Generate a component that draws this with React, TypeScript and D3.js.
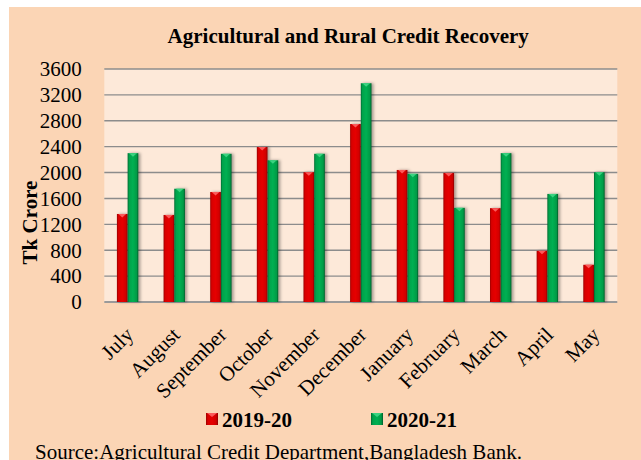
import React from "react";
import * as d3 from "d3";

const months = ["July","August","September","October","November","December","January","February","March","April","May"];
const seriesNames = ["2019-20","2020-21"];
const values2019 = [1360,1345,1700,2395,2005,2750,2040,1995,1450,790,575];
const values2020 = [2300,1750,2290,2190,2290,3380,1980,1455,2300,1670,2005];
const yTicks = [0,400,800,1200,1600,2000,2400,2800,3200,3600];
const title = "Agricultural and Rural Credit Recovery";
const yTitle = "Tk Crore";
const source = "Source:Agricultural Credit Department,Bangladesh Bank.";

const W = 641, H = 460;
const plot = { left: 104.3, right: 617.3, top: 69, bottom: 302 };
const FONT = "'Liberation Serif', 'Times New Roman', serif";

export default function App() {
  const x0 = d3.scaleBand<string>().domain(months).range([plot.left, plot.right]).padding(0);
  const bw = 10.7;
  const x1 = d3.scaleBand<string>().domain(seriesNames)
    .range([x0.bandwidth() / 2 - bw, x0.bandwidth() / 2 + bw]).padding(0);
  const y = d3.scaleLinear().domain([0, 3600]).range([plot.bottom, plot.top]);
  const data = [values2019, values2020];
  const grads = ["gRed", "gGreen"];
  const tops = ["#ff6a6a", "#44d98a"];
  const legendX = [206, 371];

  return (
    <svg width={W} height={H} style={{ position: "absolute", left: 0, top: 0 }} fontFamily={FONT}>
      <defs>
        <linearGradient id="gRed" x1="0" x2="1" y1="0" y2="0">
          <stop offset="0" stopColor="#9a0000" />
          <stop offset="0.15" stopColor="#d80000" />
          <stop offset="0.5" stopColor="#e60000" />
          <stop offset="0.85" stopColor="#d00000" />
          <stop offset="1" stopColor="#8a0000" />
        </linearGradient>
        <linearGradient id="gGreen" x1="0" x2="1" y1="0" y2="0">
          <stop offset="0" stopColor="#006a30" />
          <stop offset="0.15" stopColor="#00a24c" />
          <stop offset="0.5" stopColor="#00b052" />
          <stop offset="0.85" stopColor="#009a46" />
          <stop offset="1" stopColor="#005a28" />
        </linearGradient>
        <filter id="shadow" x="-50%" y="-10%" width="200%" height="120%">
          <feDropShadow dx="2" dy="0" stdDeviation="1.6" floodColor="#000" floodOpacity="0.35" />
        </filter>
      </defs>
      <rect x={9} y={7} width={W - 9} height={H} fill="#FBD5B5" />
      <rect x={plot.left} y={plot.top} width={plot.right - plot.left} height={plot.bottom - plot.top} fill="#FDE9D9" />
      {yTicks.map((t) => (
        <line key={t} x1={plot.left} x2={plot.right} y1={y(t)} y2={y(t)}
          stroke={t === 0 ? "#9a9a9a" : "#8c8c8c"} strokeWidth={t === 0 ? 1.8 : 1.4} />
      ))}
      {yTicks.map((t) => (
        <text key={"l" + t} x={81.7} y={y(t)} dy="0.35em" textAnchor="end" fontSize={21} fill="#000">{t}</text>
      ))}
      <text transform={`translate(36.5,222.5) rotate(-90)`} textAnchor="middle" fontSize={21} fontWeight="bold">{yTitle}</text>
      <text x={348.2} y={43.3} textAnchor="middle" fontSize={21} fontWeight="bold">{title}</text>
      {data.map((vals, si) => (
        <g key={si}>
          {vals.map((v, i) => {
            const bx = (x0(months[i]) as number) + (x1(seriesNames[si]) as number);
            const by = y(v);
            const h = y(0) - by;
            const w = x1.bandwidth();
            return (
              <g key={i}>
                <rect x={bx} y={by} width={w} height={h} fill={`url(#${grads[si]})`} filter="url(#shadow)" />
                <polygon points={`${bx + 1.5},${by} ${bx + w - 1.5},${by} ${bx + w / 2},${by + 3.5}`} fill={tops[si]} opacity={0.85} />
              </g>
            );
          })}
        </g>
      ))}
      {months.map((m) => {
        const cx = (x0(m) as number) + x0.bandwidth() / 2;
        return (
          <text key={m} transform={`translate(${cx + 7},336) rotate(-45)`} textAnchor="end" fontSize={21}>{m}</text>
        );
      })}
      {seriesNames.map((s, si) => (
        <g key={s}>
          <rect x={legendX[si]} y={413} width={12} height={12} fill={`url(#${grads[si]})`} />
          <polygon points={`${legendX[si] + 1},${413} ${legendX[si] + 11},${413} ${legendX[si] + 6},${417}`} fill={tops[si]} opacity={0.85} />
          <text x={legendX[si] + 16} y={427} fontSize={21} fontWeight="bold">{s}</text>
        </g>
      ))}
      <text x={35} y={459} fontSize={21}>{source}</text>
    </svg>
  );
}
